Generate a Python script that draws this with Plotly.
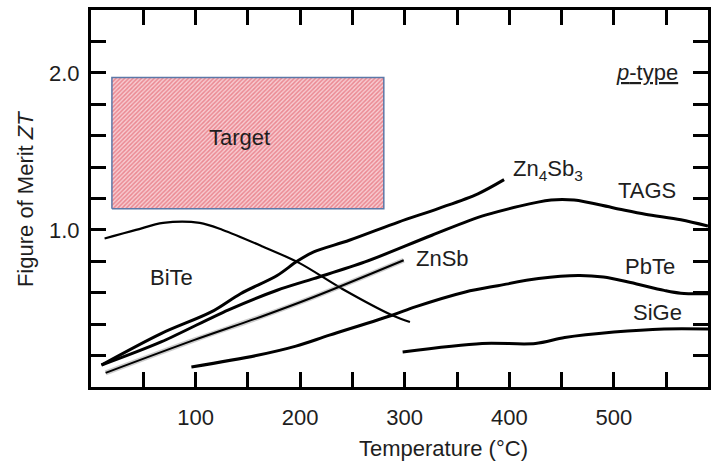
import plotly.graph_objects as go

# ---- data ----
bite_x = [13, 43, 69, 104, 126, 164, 199, 240, 288, 305]
bite_y = [0.945, 1.0, 1.045, 1.045, 1.0, 0.895, 0.79, 0.626, 0.457, 0.414]

zn4sb3_x = [10, 67, 115, 143, 178, 197, 213, 247, 294, 332, 370, 395]
zn4sb3_y = [0.14, 0.34, 0.478, 0.594, 0.71, 0.80, 0.86, 0.934, 1.05, 1.136, 1.23, 1.32]

tags_x = [10, 67, 131, 178, 213, 262, 326, 377, 440, 462, 500, 530, 564, 590]
tags_y = [0.14, 0.287, 0.49, 0.616, 0.69, 0.796, 0.966, 1.094, 1.19, 1.19, 1.14, 1.10, 1.065, 1.025]

znsb_x = [14, 99, 162, 213, 299]
znsb_y = [0.09, 0.30, 0.446, 0.573, 0.807]

pbte_x = [96, 158, 196, 228, 288, 310, 358, 389, 428, 466, 490, 516, 548, 564, 590]
pbte_y = [0.127, 0.20, 0.26, 0.33, 0.457, 0.51, 0.605, 0.645, 0.69, 0.71, 0.70, 0.665, 0.615, 0.597, 0.594]

sige_x = [298, 374, 425, 453, 500, 548, 590]
sige_y = [0.223, 0.277, 0.277, 0.315, 0.35, 0.37, 0.37]

target_x = [20, 280]
target_y = [1.134, 1.97]

x_ticks = [50, 100, 150, 200, 250, 300, 350, 400, 450, 500, 550]
x_ticktext = ["", "100", "", "200", "", "300", "", "400", "", "500", ""]
y_ticks = [0.2, 0.4, 0.6, 0.8, 1.0, 1.2, 1.4, 1.6, 1.8, 2.0, 2.2]
y_ticktext = ["", "", "", "", "1.0", "", "", "", "", "2.0", ""]

labels = [
    ("BiTe", 77, 0.70),
    ("ZnSb", 336, 0.817),
    ("Zn<sub>4</sub>Sb<sub>3</sub>", 437, 1.38),
    ("TAGS", 532, 1.25),
    ("PbTe", 535, 0.764),
    ("SiGe", 542, 0.475),
    ("Target", 142, 1.59),
    ("<u><i>p</i>-type</u>", 532, 2.0),
]

FONT = "Liberation Sans, Arial, sans-serif"
TXT = "#1e1e1e"

fig = go.Figure()

# target box (hatched)
tx = [target_x[0], target_x[1], target_x[1], target_x[0], target_x[0]]
ty = [target_y[0], target_y[0], target_y[1], target_y[1], target_y[0]]
fig.add_trace(go.Scatter(
    x=tx, y=ty, mode="lines", fill="toself",
    fillcolor="#f2aeb5",
    fillpattern=dict(shape="/", fgcolor="#de4352", bgcolor="#f7ccd1", size=3, solidity=0.5),
    line=dict(color="#5b78a8", width=1.5), hoverinfo="skip", showlegend=False))

def curve(x, y, width=3, color="black"):
    fig.add_trace(go.Scatter(x=x, y=y, mode="lines", line=dict(color=color, width=width, shape="spline", smoothing=0.9),
                             showlegend=False, hoverinfo="skip"))

curve(bite_x, bite_y, 2.2)
curve(zn4sb3_x, zn4sb3_y, 3)
curve(tags_x, tags_y, 3)
curve(znsb_x, znsb_y, 5, "rgba(110,110,110,0.35)")
curve(znsb_x, znsb_y, 2)
curve(pbte_x, pbte_y, 3)
curve(sige_x, sige_y, 3)

for text, x, y in labels:
    fig.add_annotation(x=x, y=y, xref="x", yref="y", text=text, showarrow=False,
                       font=dict(family=FONT, size=22, color=TXT), xanchor="center", yanchor="middle")

# axis titles
fig.add_annotation(x=0.571, y=-0.164, xref="paper", yref="paper", text="Temperature (°C)", showarrow=False,
                   font=dict(family=FONT, size=22, color=TXT), xanchor="center", yanchor="middle")
fig.add_annotation(x=-0.105, y=0.499, xref="paper", yref="paper", text="Figure of Merit <i>ZT</i>", showarrow=False,
                   textangle=-90, font=dict(family=FONT, size=22, color=TXT), xanchor="center", yanchor="middle")

axis_common = dict(showline=True, linewidth=3, linecolor="black", mirror="ticks", ticks="inside",
                   ticklen=15, tickwidth=3, tickcolor="black", showgrid=False, zeroline=False,
                   tickfont=dict(family=FONT, size=22, color=TXT))

fig.update_xaxes(range=[0, 590], tickvals=x_ticks, ticktext=x_ticktext, ticklabelstandoff=9, **axis_common)
fig.update_yaxes(range=[0, 2.4], tickvals=y_ticks, ticktext=y_ticktext, ticklabelstandoff=4, **axis_common)

fig.update_layout(width=711, height=465, margin=dict(l=91, r=0, t=10, b=78),
                  plot_bgcolor="white", paper_bgcolor="white", showlegend=False)

fig.write_html("out.html", config={"displayModeBar": False},
               post_script="document.body.style.margin='0';document.body.style.overflow='hidden';")
